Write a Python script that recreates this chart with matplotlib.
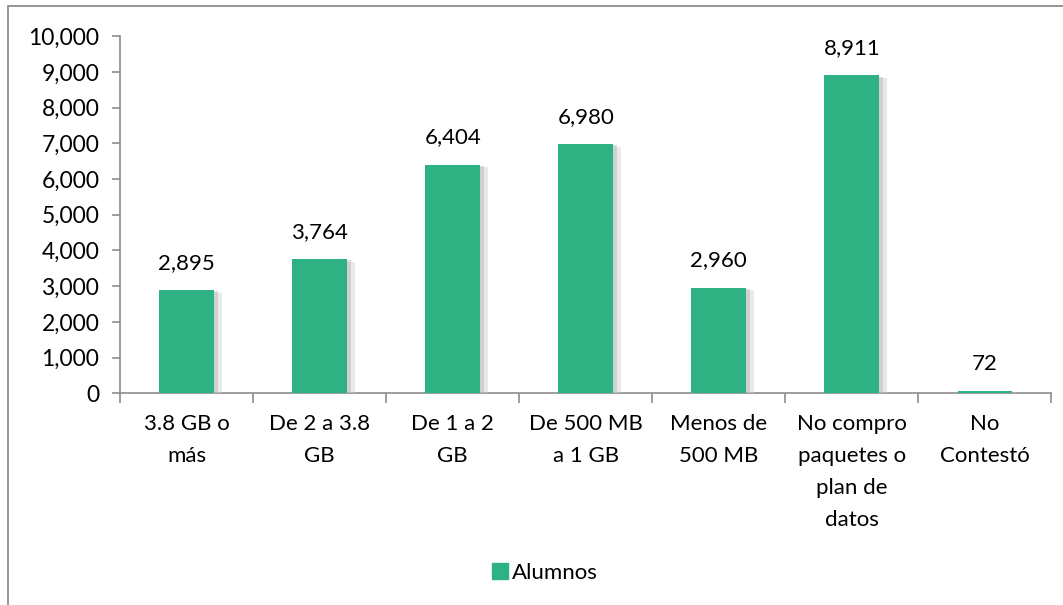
import matplotlib.pyplot as plt
import matplotlib.patheffects as pe
from matplotlib.patches import Rectangle, Patch
from matplotlib.ticker import FuncFormatter

plt.rcParams['font.family'] = ['Lato', 'DejaVu Sans']

categories = ["3.8 GB o\nmás", "De 2 a 3.8\nGB", "De 1 a 2\nGB", "De 500 MB\na 1 GB",
              "Menos de\n500 MB", "No compro\npaquetes o\nplan de\ndatos", "No\nContestó"]
alumnos = [2895, 3764, 6404, 6980, 2960, 8911, 72]
yticks = list(range(0, 10001, 1000))

fig = plt.figure(figsize=(10.63, 6.05), dpi=100)
ax = fig.add_axes([0.113, 0.350, 0.876, 0.590])

# marco del grafico
fig.patches.append(Rectangle((8 / 1063, -0.1), 1.2, 1.1 - 6 / 605,
                             transform=fig.transFigure, fill=False,
                             edgecolor='#8c8c8c', linewidth=1.3))

x = range(len(categories))
bars = ax.bar(x, alumnos, width=0.41, color='#2fb283', zorder=3)
for b in bars:
    b.set_path_effects([pe.SimplePatchShadow(offset=(6, -2), shadow_rgbFace='#d0d0d0', alpha=0.45),
                        pe.SimplePatchShadow(offset=(3, -1), shadow_rgbFace='#b8b8b8', alpha=0.5),
                        pe.Normal()])

for xi, v in zip(x, alumnos):
    ax.text(xi, v + 480, f"{v:,}", ha='center', va='bottom', fontsize=16)

ax.set_xlim(-0.5, len(categories) - 0.5)
ax.set_ylim(0, 10000)
ax.set_yticks(yticks)
ax.yaxis.set_major_formatter(FuncFormatter(lambda v, p: f"{int(v):,}"))
ax.set_xticks(list(x))
ax.set_xticklabels(categories, fontsize=16, linespacing=1.75)
ax.set_xticks([i - 0.5 for i in range(len(categories) + 1)], minor=True)
ax.tick_params(axis='x', which='major', length=0, pad=15)
ax.tick_params(axis='x', which='minor', length=7, color='#8c8c8c', width=1.2)
ax.tick_params(axis='y', length=6, color='#8c8c8c', width=1.2, labelsize=16.5, pad=9)

for s in ['top', 'right']:
    ax.spines[s].set_visible(False)
for s in ['left', 'bottom']:
    ax.spines[s].set_color('#8c8c8c')
    ax.spines[s].set_linewidth(1.2)

fig.legend(handles=[Patch(color='#2fb283')], labels=['Alumnos'], loc='center',
           bbox_to_anchor=(0.513, 0.053), frameon=False, fontsize=16,
           handlelength=0.7, handleheight=0.7, handletextpad=0.2)

fig.savefig('out.png', dpi=100)
